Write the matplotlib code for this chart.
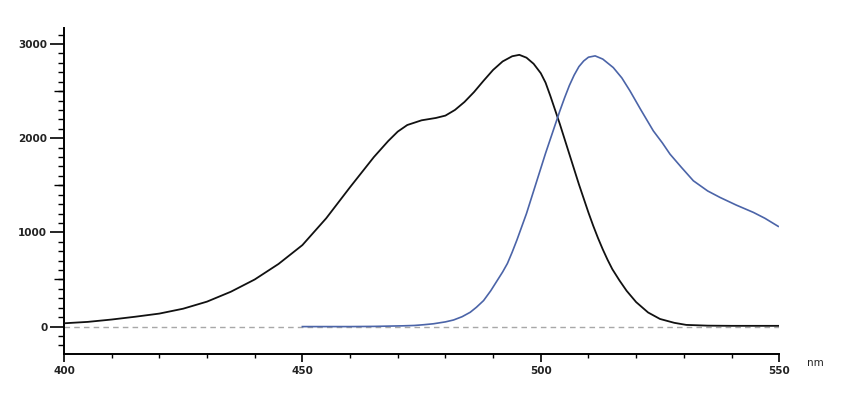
import matplotlib
matplotlib.use("Agg")
import matplotlib.pyplot as plt
from matplotlib.ticker import MultipleLocator, FixedLocator

# Excitation spectrum (black)
ex_nm = [400, 405, 410, 415, 420, 425, 430, 435, 440, 445, 450, 455, 460, 465,
         468, 470, 472, 475, 478, 480, 482, 484, 486, 488, 490, 492, 494, 495.5,
         497, 498.5, 500, 501, 502, 503, 504, 505, 506, 507, 508, 509, 510, 511,
         512, 513, 514, 515, 516.5, 518, 520, 522.5, 525, 528, 530.5, 535, 540,
         545, 550]
ex_val = [35, 50, 75, 105, 138, 190, 265, 370, 500, 665, 865, 1150, 1480, 1800,
          1970, 2070, 2140, 2190, 2215, 2240, 2300, 2385, 2490, 2610, 2725, 2815, 2870, 2885,
          2855, 2790, 2690, 2590, 2450, 2300, 2150, 1990, 1830, 1670, 1510, 1360, 1210, 1070,
          940, 820, 710, 610, 490, 380, 260, 150, 81, 40, 18, 10, 8,
          8, 8]

# Emission spectrum (blue)
em_nm = [450, 455, 460, 465, 468, 471, 473.5, 475.5, 477.5, 480, 481.7, 483.5,
         485.2, 486.5, 488, 489.5, 491, 492, 493, 494, 495, 496, 497, 498, 499,
         500, 501, 502, 503, 504, 505, 506, 507, 508, 509, 510, 511.4, 513,
         515.2, 517, 518.7, 521, 523.6, 525.5, 527.1, 529.5, 532, 535, 537.6,
         541, 544.6, 547, 549.8]
em_val = [0, 0, 0, 2, 5, 8, 12, 20, 30, 50, 70, 105,
          152, 205, 276, 380, 500, 580, 670, 790, 920, 1060, 1200, 1360, 1520,
          1680, 1840, 1990, 2140, 2290, 2430, 2560, 2670, 2760, 2820, 2860, 2874, 2840,
          2750, 2640, 2503, 2300, 2078, 1950, 1831, 1690, 1548, 1440, 1371,
          1290, 1212, 1150, 1064]

x_major = [400, 450, 500, 550]
y_major = [0, 1000, 2000, 3000]
x_label = "nm"

fig = plt.figure(figsize=(8.54, 4.0), dpi=100)
ax = fig.add_axes([0.0749, 0.115, 0.8375, 0.815])

ax.axhline(0, color="#a8a8a8", lw=1.0, ls=(0, (4, 3)), zorder=1)
ax.plot(ex_nm, ex_val, color="#111111", lw=1.3, zorder=3)
ax.plot(em_nm, em_val, color="#4b64a8", lw=1.2, zorder=3)

ax.set_xlim(400, 550)
ax.set_ylim(-291, 3170)

for s in ["top", "right"]:
    ax.spines[s].set_visible(False)
ax.spines["left"].set_linewidth(1.4)
ax.spines["bottom"].set_linewidth(1.4)

ax.xaxis.set_major_locator(FixedLocator(x_major))
ax.xaxis.set_minor_locator(MultipleLocator(10))
ax.yaxis.set_major_locator(FixedLocator(y_major))
ax.yaxis.set_minor_locator(MultipleLocator(100))

ax.tick_params(axis="x", which="major", direction="out", length=6, width=1.2, pad=3)
ax.tick_params(axis="x", which="minor", direction="out", length=3, width=1.0)
ax.tick_params(axis="y", which="major", direction="out", length=10, width=1.2, pad=2)
ax.tick_params(axis="y", which="minor", direction="out", length=4, width=1.0)

for lbl in ax.get_xticklabels() + ax.get_yticklabels():
    lbl.set_fontsize(7.5)
    lbl.set_fontweight("bold")
    lbl.set_family("DejaVu Sans")
    lbl.set_color("#222222")

# medium ticks at the half-thousands
sec = ax.secondary_yaxis("left")
sec.spines["left"].set_visible(False)
sec.yaxis.set_major_locator(FixedLocator([500, 1500, 2500]))
sec.tick_params(axis="y", which="major", direction="out", length=7, width=1.0, labelleft=False)
sec.yaxis.set_minor_locator(FixedLocator([]))

fig.text(0.955, 0.092, x_label, fontsize=7.5, family="DejaVu Sans",
         color="#222222", ha="center", va="center")

fig.savefig("out.png", dpi=100, facecolor="white")
